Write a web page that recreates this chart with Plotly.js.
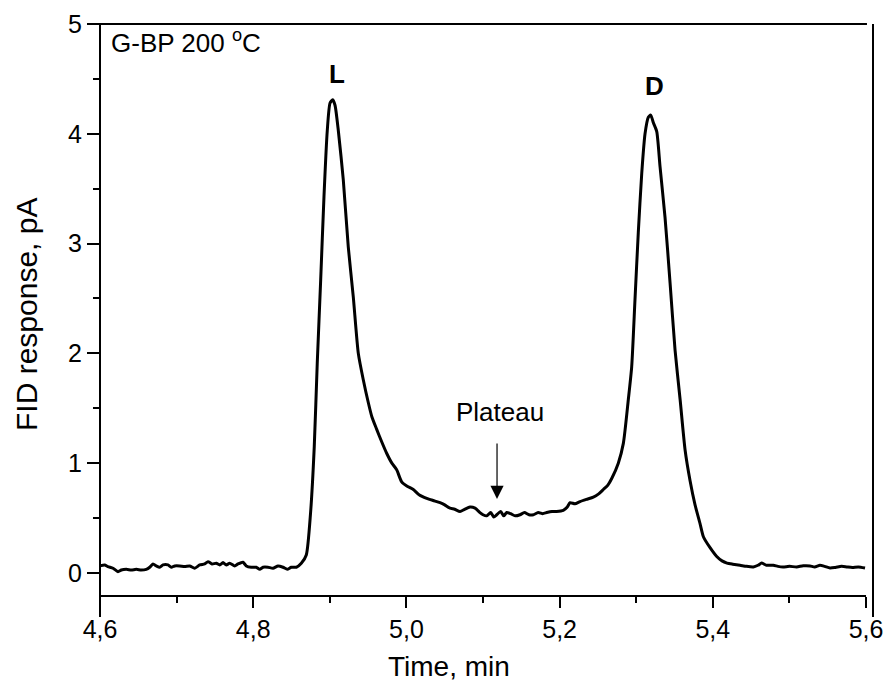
<!DOCTYPE html>
<html>
<head>
<meta charset="utf-8">
<script src="https://cdn.plot.ly/plotly-3.0.1.min.js"></script>
<style>html,body{margin:0;padding:0;background:#fff;}#chart{width:889px;height:685px;}</style>
</head>
<body>
<div id="chart"></div>
<script>
// Time, min
const timeMin = [
4.6000,4.6061,4.6104,4.6170,4.6235,4.6278,4.6343,4.6409,4.6474,4.6539,4.6604,4.6649,4.6692,4.6735,4.6779,4.6822,4.6888,4.6931,4.6975,4.7040,
4.7106,4.7171,4.7236,4.7302,4.7367,4.7410,4.7462,4.7518,4.7563,4.7606,4.7649,4.7693,4.7758,4.7802,4.7867,4.7910,4.7975,4.8040,4.8085,4.8128,
4.8193,4.8258,4.8324,4.8389,4.8445,4.8497,4.8563,4.8628,4.8693,4.8749,4.8797,4.8836,4.8881,4.8924,4.8967,4.9003,4.9038,4.9068,4.9111,4.9176,
4.9241,4.9307,4.9372,4.9437,4.9503,4.9550,4.9611,4.9680,4.9742,4.9810,4.9873,4.9938,5.0010,5.0090,5.0170,5.0265,5.0350,5.0439,5.0500,5.0569,
5.0630,5.0700,5.0760,5.0830,5.0896,5.0960,5.1000,5.1048,5.1100,5.1140,5.1179,5.1230,5.1270,5.1309,5.1360,5.1420,5.1483,5.1540,5.1600,5.1657,
5.1720,5.1780,5.1832,5.1900,5.1960,5.2048,5.2100,5.2136,5.2200,5.2266,5.2350,5.2440,5.2510,5.2571,5.2630,5.2680,5.2766,5.2832,5.2897,5.2941,
5.2984,5.3027,5.3072,5.3115,5.3158,5.3190,5.3224,5.3268,5.3311,5.3376,5.3442,5.3507,5.3573,5.3638,5.3703,5.3768,5.3833,5.3877,5.3964,5.4051,
5.4120,5.4185,5.4260,5.4355,5.4440,5.4529,5.4590,5.4638,5.4700,5.4790,5.4850,5.4916,5.5000,5.5094,5.5180,5.5269,5.5330,5.5399,5.5460,5.5530,
5.5600,5.5680,5.5748,5.5820,5.5900,5.5987
];
// FID response, pA
const fidPA = [
0.064,0.073,0.058,0.043,0.012,0.027,0.033,0.027,0.033,0.027,0.033,0.052,0.082,0.064,0.052,0.073,0.073,0.052,0.064,0.064,
0.058,0.064,0.043,0.073,0.082,0.103,0.082,0.088,0.073,0.094,0.073,0.088,0.064,0.082,0.097,0.064,0.052,0.052,0.033,0.052,
0.052,0.043,0.064,0.052,0.033,0.052,0.052,0.088,0.164,0.55,1.15,1.91,2.67,3.43,4.03,4.28,4.31,4.26,4.03,3.58,
2.97,2.51,2.00,1.76,1.55,1.42,1.31,1.19,1.09,1.00,0.94,0.83,0.79,0.76,0.71,0.68,0.66,0.64,0.62,0.59,
0.58,0.56,0.58,0.60,0.59,0.55,0.53,0.52,0.55,0.51,0.53,0.56,0.52,0.55,0.54,0.52,0.53,0.55,0.53,0.53,
0.55,0.54,0.55,0.56,0.56,0.57,0.60,0.64,0.63,0.65,0.67,0.69,0.72,0.76,0.80,0.86,1.00,1.18,1.58,1.88,
2.49,3.10,3.64,4.00,4.15,4.17,4.10,4.02,3.70,3.24,2.64,2.03,1.58,1.12,0.84,0.62,0.45,0.33,0.23,0.15,
0.11,0.09,0.08,0.07,0.06,0.055,0.07,0.09,0.07,0.07,0.06,0.055,0.06,0.055,0.065,0.064,0.055,0.07,0.06,0.045,
0.05,0.06,0.055,0.05,0.055,0.045
];
// Axis ticks
const xTickStart = 4.6, xTickStep = 0.2;
const yTickStart = 0, yTickStep = 1;

const trace = {
  x: timeMin, y: fidPA, type: 'scatter', mode: 'lines',
  line: {color: '#000', width: 3, shape: 'spline', smoothing: 0.6},
  hoverinfo: 'skip'
};

const F = 'Liberation Sans, Arial, sans-serif';
const layout = {
  width: 889, height: 685,
  margin: {l: 100, r: 16, t: 24, b: 89},
  paper_bgcolor: '#fff', plot_bgcolor: '#fff',
  separators: ',.',
  showlegend: false,
  font: {family: F, color: '#000'},
  xaxis: {
    range: [4.6, 5.6091], tick0: xTickStart, dtick: xTickStep, tickformat: '.1f',
    ticks: 'outside', ticklen: 11, tickwidth: 2, tickcolor: '#000',
    showline: false, showgrid: false, zeroline: false,
    tickfont: {family: F, size: 25, color: '#000'},
    minor: {tick0: 4.6, dtick: 0.1, ticks: 'outside', ticklen: 6, tickwidth: 2, tickcolor: '#000', showgrid: false}
  },
  yaxis: {
    range: [-0.21, 5], tick0: yTickStart, dtick: yTickStep,
    ticks: 'outside', ticklen: 12, tickwidth: 2, tickcolor: '#000',
    showline: false, showgrid: false, zeroline: false,
    tickfont: {family: F, size: 25, color: '#000'},
    minor: {tick0: 0, dtick: 0.5, ticks: 'outside', ticklen: 6, tickwidth: 2, tickcolor: '#000', showgrid: false}
  },
  shapes: [
    {type: 'line', xref: 'x', yref: 'paper', x0: 4.6, x1: 5.6, y0: 0, y1: 0, line: {color: '#000', width: 2}},
    {type: 'line', xref: 'paper', yref: 'paper', x0: 0, x1: 0, y0: -0.0367, y1: 1, line: {color: '#000', width: 2}},
    {type: 'line', xref: 'paper', yref: 'paper', x0: 1, x1: 1, y0: -0.0367, y1: 1, line: {color: '#000', width: 2}},
    {type: 'line', xref: 'paper', yref: 'paper', x0: -0.0155, x1: 0.9922, y0: 1, y1: 1, line: {color: '#000', width: 2}}
  ],
  annotations: [
    {text: 'Time, min', xref: 'paper', yref: 'paper', x: 0.4515, y: -0.1241, xanchor: 'center', yanchor: 'middle', showarrow: false, font: {family: F, size: 28, color: '#000'}},
    {text: 'FID response, pA', xref: 'paper', yref: 'paper', x: -0.0944, y: 0.4913, xanchor: 'center', yanchor: 'middle', textangle: -90, showarrow: false, font: {family: F, size: 30, color: '#000'}},
    {text: 'G-BP 200 <sup>o</sup>C', xref: 'paper', yref: 'paper', x: 0.0116, y: 0.9694, xanchor: 'left', yanchor: 'middle', showarrow: false, font: {family: F, size: 26, color: '#000'}},
    {text: '<b>L</b>', xref: 'paper', yref: 'paper', x: 0.3066, y: 0.9126, xanchor: 'center', yanchor: 'middle', showarrow: false, font: {family: F, size: 26, color: '#000'}},
    {text: '<b>D</b>', xref: 'paper', yref: 'paper', x: 0.7167, y: 0.8916, xanchor: 'center', yanchor: 'middle', showarrow: false, font: {family: F, size: 26, color: '#000'}},
    {text: 'Plateau', xref: 'paper', yref: 'paper', x: 0.5175, y: 0.3217, xanchor: 'center', yanchor: 'middle', showarrow: false, font: {family: F, size: 26, color: '#000'}},
    {text: '', x: 5.1183, y: 0.674, xref: 'x', yref: 'y', showarrow: true, ax: 0, ay: -57, arrowhead: 2, arrowsize: 2.2, arrowwidth: 1.2, arrowcolor: '#000', standoff: 0}
  ]
};

Plotly.newPlot('chart', [trace], layout, {displayModeBar: false, staticPlot: true});
</script>
</body>
</html>
